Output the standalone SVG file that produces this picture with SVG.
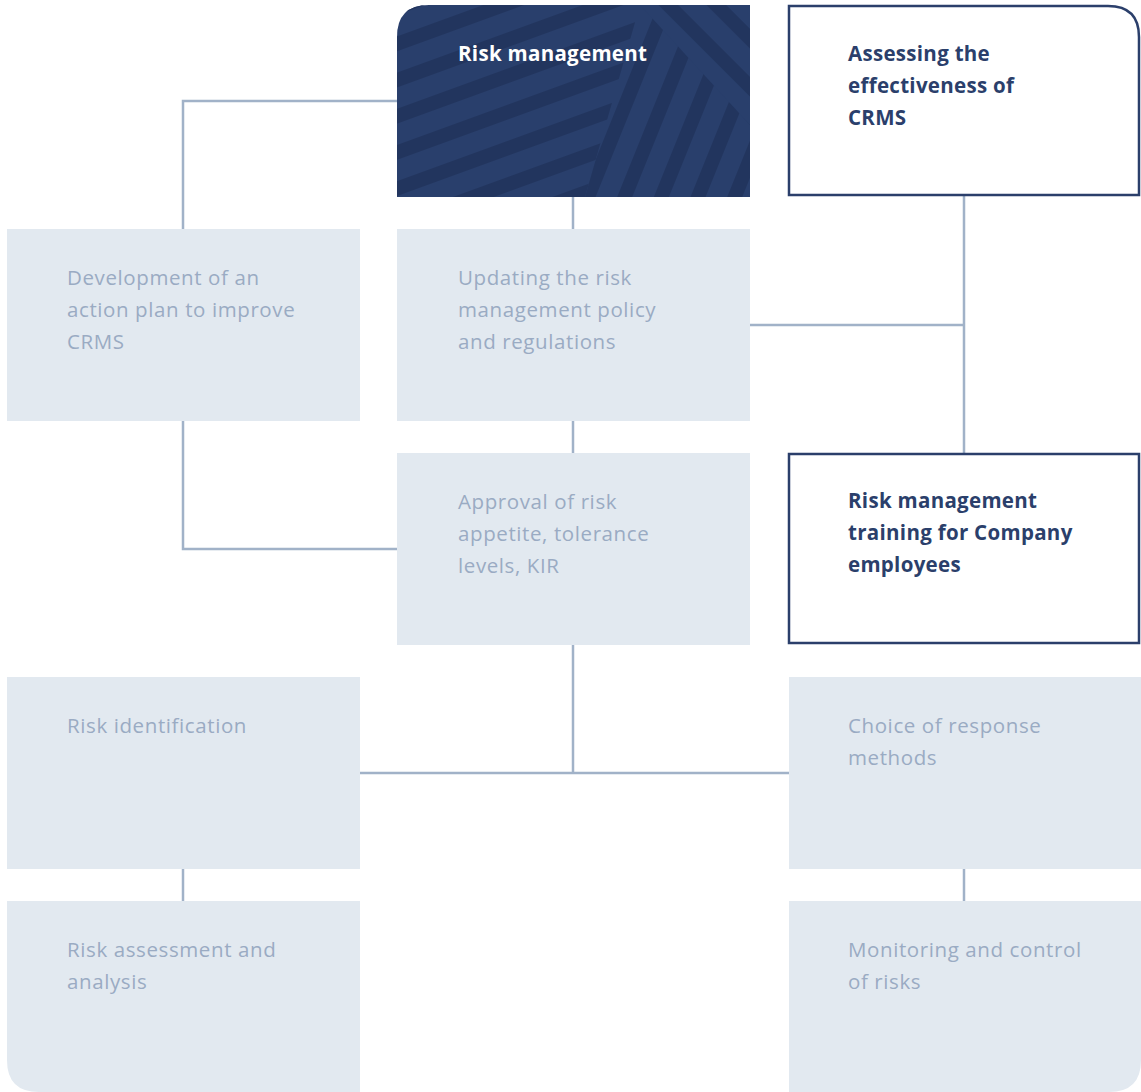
<svg xmlns="http://www.w3.org/2000/svg" width="1141" height="1092" viewBox="0 0 1141 1092">
  <style>
    .box { fill: #e2e9f0; }
    .outline { fill: #ffffff; stroke: #2b3f6b; stroke-width: 2.5; }
    .lbl { font-family: "Open Sans", Lato, sans-serif; font-size: 20.5px; letter-spacing: 0.6px; fill: #9aabc3; }
    .head { font-family: "Open Sans", Lato, sans-serif; font-size: 20.5px; letter-spacing: 0.3px; font-weight: 700; fill: #2b3f6b; }
    .head-w { font-family: "Open Sans", Lato, sans-serif; font-size: 20.5px; letter-spacing: 0.3px; font-weight: 700; fill: #ffffff; }
    .wire { fill: none; stroke: #a1b2c8; stroke-width: 2.5; }
  </style>
  <defs>
    <pattern id="stripes" width="34" height="34" patternUnits="userSpaceOnUse">
      <rect width="34" height="14" fill="#22355e"/>
    </pattern>
    <pattern id="stripesA" href="#stripes" patternTransform="rotate(-20)"/>
    <pattern id="stripesB" href="#stripes" patternTransform="rotate(-68)"/>
    <pattern id="stripesC" href="#stripes" patternTransform="rotate(45)"/>
    <clipPath id="rm-clip">
      <path d="M397 197 V37 Q397 5 429 5 H750 V197 Z"/>
    </clipPath>
  </defs>

  <!-- connectors -->
  <g id="connectors">
    <path class="wire" d="M397 101 H183 V229"/>
    <path class="wire" d="M573 197 V229"/>
    <path class="wire" d="M573 421 V453"/>
    <path class="wire" d="M964 195 V453"/>
    <path class="wire" d="M750 325 H964"/>
    <path class="wire" d="M183 421 V549 H397"/>
    <path class="wire" d="M573 645 V773"/>
    <path class="wire" d="M360 773 H789"/>
    <path class="wire" d="M183 869 V901"/>
    <path class="wire" d="M964 869 V901"/>
  </g>

  <!-- Risk management (dark, striped) -->
  <g id="risk-management">
    <g clip-path="url(#rm-clip)">
      <rect x="397" y="5" width="353" height="192" fill="#293f6c"/>
      <polygon points="397,5 640,5 585,197 397,197" fill="url(#stripesA)"/>
      <polygon points="640,5 750,5 750,197 585,197" fill="url(#stripesB)"/>
      <polygon points="640,5 750,5 750,125" fill="#293f6c"/>
      <polygon points="640,5 750,5 750,125" fill="url(#stripesC)"/>
    </g>
    <text class="head-w" x="458" y="61">Risk management</text>
  </g>

  <!-- Assessing the effectiveness of CRMS -->
  <g id="assessing">
    <path class="outline" d="M789 195 V6 H1108 Q1139 6 1139 37 V195 Z"/>
    <text class="head" x="848" y="61">Assessing the</text>
    <text class="head" x="848" y="93">effectiveness of</text>
    <text class="head" x="848" y="125">CRMS</text>
  </g>

  <!-- Development of an action plan -->
  <g id="action-plan">
    <rect class="box" x="7" y="229" width="353" height="192"/>
    <text class="lbl" x="67" y="285">Development of an</text>
    <text class="lbl" x="67" y="317">action plan to improve</text>
    <text class="lbl" x="67" y="349">CRMS</text>
  </g>

  <!-- Updating the policy -->
  <g id="updating-policy">
    <rect class="box" x="397" y="229" width="353" height="192"/>
    <text class="lbl" x="458" y="285">Updating the risk</text>
    <text class="lbl" x="458" y="317">management policy</text>
    <text class="lbl" x="458" y="349">and regulations</text>
  </g>

  <!-- Approval of risk appetite -->
  <g id="risk-appetite">
    <rect class="box" x="397" y="453" width="353" height="192"/>
    <text class="lbl" x="458" y="509">Approval of risk</text>
    <text class="lbl" x="458" y="541">appetite, tolerance</text>
    <text class="lbl" x="458" y="573">levels, KIR</text>
  </g>

  <!-- Training -->
  <g id="training">
    <rect class="outline" x="789" y="454" width="350" height="189"/>
    <text class="head" x="848" y="508">Risk management</text>
    <text class="head" x="848" y="540">training for Company</text>
    <text class="head" x="848" y="572">employees</text>
  </g>

  <!-- Risk identification -->
  <g id="risk-identification">
    <rect class="box" x="7" y="677" width="353" height="192"/>
    <text class="lbl" x="67" y="733">Risk identification</text>
  </g>

  <!-- Choice of response methods -->
  <g id="response-methods">
    <rect class="box" x="789" y="677" width="352" height="192"/>
    <text class="lbl" x="848" y="733">Choice of response</text>
    <text class="lbl" x="848" y="765">methods</text>
  </g>

  <!-- Risk assessment and analysis -->
  <g id="risk-assessment">
    <path class="box" d="M7 901 H360 V1092 H39 Q7 1092 7 1060 Z"/>
    <text class="lbl" x="67" y="957">Risk assessment and</text>
    <text class="lbl" x="67" y="989">analysis</text>
  </g>

  <!-- Monitoring and control -->
  <g id="monitoring">
    <path class="box" d="M789 901 H1141 V1060 Q1141 1092 1109 1092 H789 Z"/>
    <text class="lbl" x="848" y="957">Monitoring and control</text>
    <text class="lbl" x="848" y="989">of risks</text>
  </g>
</svg>
